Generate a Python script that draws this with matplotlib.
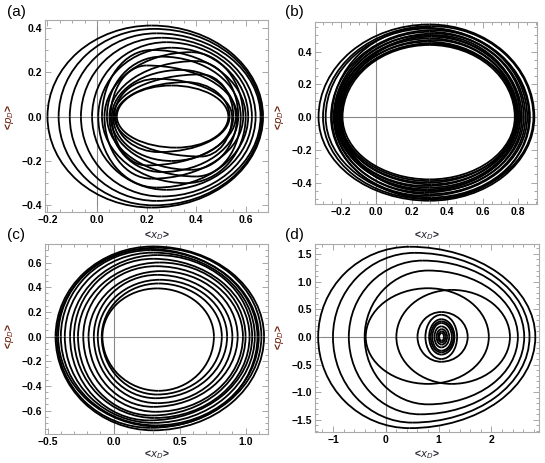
import matplotlib
matplotlib.use("Agg")
import matplotlib.pyplot as plt
from matplotlib.patches import Arc
from matplotlib.ticker import AutoMinorLocator

# each loop of a trajectory: left / right crossing of p=0, top / bottom height,
# x position of the top and bottom turning points
a_left = [-0.20, -0.155, -0.11, -0.065, -0.02, 0.005, 0.02, 0.03, 0.04, 0.05, 0.055, 0.06, 0.065, 0.07, 0.075, 0.08]
a_right = [0.67, 0.665, 0.66, 0.64, 0.625, 0.61, 0.60, 0.59, 0.58, 0.57, 0.565, 0.56, 0.55, 0.545, 0.535, 0.53]
a_top = [0.41, 0.395, 0.375, 0.355, 0.335, 0.31, 0.30, 0.29, 0.27, 0.25, 0.23, 0.21, 0.19, 0.17, 0.155, 0.14]
a_bot = [0.41, 0.40, 0.38, 0.36, 0.33, 0.32, 0.30, 0.28, 0.27, 0.25, 0.24, 0.22, 0.20, 0.18, 0.16, 0.14]
a_ptop = [0.22, 0.23, 0.24, 0.26, 0.28, 0.30, 0.22, 0.38, 0.26, 0.40, 0.20, 0.34, 0.42, 0.24, 0.36, 0.30]
a_pbot = [0.22, 0.23, 0.24, 0.26, 0.28, 0.24, 0.36, 0.22, 0.40, 0.26, 0.38, 0.20, 0.30, 0.42, 0.25, 0.32]

b_left = [-0.325, -0.30, -0.285, -0.255, -0.24, -0.235, -0.23, -0.225, -0.22, -0.215, -0.21, -0.205, -0.20, -0.195, -0.19, -0.25]
b_right = [0.89, 0.885, 0.865, 0.85, 0.84, 0.83, 0.82, 0.81, 0.80, 0.795, 0.79, 0.785, 0.80, 0.81, 0.78, 0.86]
b_top = [0.565, 0.555, 0.54, 0.53, 0.52, 0.51, 0.50, 0.49, 0.48, 0.47, 0.46, 0.45, 0.445, 0.50, 0.44, 0.545]
b_bot = [0.51, 0.50, 0.49, 0.48, 0.47, 0.46, 0.45, 0.44, 0.43, 0.42, 0.41, 0.40, 0.39, 0.45, 0.38, 0.50]
b_ptop = [0.30, 0.31, 0.29, 0.32, 0.30, 0.33, 0.28, 0.31, 0.30, 0.32, 0.29, 0.31, 0.30, 0.33, 0.30, 0.28]
b_pbot = [0.30, 0.29, 0.31, 0.28, 0.30, 0.27, 0.32, 0.29, 0.30, 0.28, 0.31, 0.29, 0.30, 0.27, 0.30, 0.32]

c_left = [-0.44, -0.43, -0.40, -0.37, -0.33, -0.30, -0.27, -0.23, -0.19, -0.15, -0.12, -0.09, -0.085, -0.42]
c_right = [1.14, 1.12, 1.10, 1.07, 1.05, 1.03, 1.00, 0.98, 0.94, 0.90, 0.86, 0.82, 0.76, 1.09]
c_top = [0.73, 0.72, 0.70, 0.68, 0.66, 0.63, 0.60, 0.57, 0.53, 0.50, 0.46, 0.43, 0.39, 0.71]
c_bot = [0.76, 0.74, 0.72, 0.70, 0.68, 0.66, 0.64, 0.61, 0.57, 0.54, 0.50, 0.47, 0.44, 0.73]
c_ptop = [0.30, 0.32, 0.28, 0.30, 0.33, 0.30, 0.35, 0.32, 0.36, 0.33, 0.35, 0.34, 0.33, 0.26]
c_pbot = [0.30, 0.28, 0.32, 0.30, 0.27, 0.31, 0.29, 0.32, 0.30, 0.33, 0.32, 0.33, 0.34, 0.34]

d_left = [-1.28, -1.00, -0.70, -0.40, -0.38, 0.20, 0.60, 0.75, 0.82, 0.88, 0.92, 0.96, 0.99, 1.01, 0.85]
d_right = [2.83, 2.72, 2.62, 2.50, 1.95, 2.35, 1.55, 1.35, 1.30, 1.25, 1.20, 1.16, 1.13, 1.10, 1.28]
d_top = [1.63, 1.52, 1.38, 1.20, 0.88, 0.85, 0.45, 0.40, 0.32, 0.25, 0.19, 0.14, 0.10, 0.07, 0.28]
d_bot = [1.65, 1.55, 1.40, 1.22, 0.85, 0.85, 0.45, 0.40, 0.32, 0.25, 0.19, 0.14, 0.10, 0.07, 0.28]
d_ptop = [0.45, 0.55, 0.70, 0.80, 0.80, 1.25, 1.05, 1.05, 1.05, 1.05, 1.05, 1.06, 1.06, 1.06, 1.05]
d_pbot = [0.45, 0.50, 0.65, 0.80, 0.80, 1.25, 1.05, 1.05, 1.05, 1.05, 1.05, 1.06, 1.06, 1.06, 1.05]

a_xticks = [-0.2, 0.0, 0.2, 0.4, 0.6]
a_yticks = [-0.4, -0.2, 0.0, 0.2, 0.4]
b_xticks = [-0.2, 0.0, 0.2, 0.4, 0.6, 0.8]
b_yticks = [-0.4, -0.2, 0.0, 0.2, 0.4]
c_xticks = [-0.5, 0.0, 0.5, 1.0]
c_yticks = [-0.6, -0.4, -0.2, 0.0, 0.2, 0.4, 0.6]
d_xticks = [-1, 0, 1, 2]
d_yticks = [-1.5, -1.0, -0.5, 0.0, 0.5, 1.0, 1.5]

W, H = 545, 463
fig = plt.figure(figsize=(W / 100, H / 100), dpi=100)

pcol = '#6e2412'
xcol = '#2a2a35'


def lab(v, fmt):
    return (fmt % v).replace('-', '\u2212')


def panel(box, left, right, top, bot, ptop, pbot, xlim, ylim, xt, yt, xfmt, yfmt, nminor):
    l, t, r, b = box
    ax = fig.add_axes([l / W, 1 - b / H, (r - l) / W, (b - t) / H])
    ax.axhline(0, color='#888888', lw=0.8, zorder=1)
    ax.axvline(0, color='#888888', lw=0.8, zorder=1)
    for i in range(len(left)):
        L, R, T, B, pt, pb = left[i], right[i], top[i], bot[i], ptop[i], pbot[i]
        kw = dict(color='black', lw=1.3, zorder=2)
        ax.add_patch(Arc((pt, 0), 2 * (pt - L), 2 * T, theta1=90, theta2=180, **kw))
        ax.add_patch(Arc((pt, 0), 2 * (R - pt), 2 * T, theta1=0, theta2=90, **kw))
        ax.add_patch(Arc((pb, 0), 2 * (pb - L), 2 * B, theta1=180, theta2=270, **kw))
        ax.add_patch(Arc((pb, 0), 2 * (R - pb), 2 * B, theta1=270, theta2=360, **kw))
    ax.set_xlim(*xlim)
    ax.set_ylim(*ylim)
    ax.set_xticks(xt)
    ax.set_xticklabels([lab(v, xfmt) for v in xt])
    ax.set_yticks(yt)
    ax.set_yticklabels([lab(v, yfmt) for v in yt])
    ax.xaxis.set_minor_locator(AutoMinorLocator(nminor[0]))
    ax.yaxis.set_minor_locator(AutoMinorLocator(nminor[1]))
    ax.tick_params(which='both', direction='in', top=True, right=True, color='#999999', width=0.6)
    ax.tick_params(which='major', length=4, labelsize=7.5, pad=2)
    ax.tick_params(which='minor', length=2)
    for s in ax.spines.values():
        s.set_color('#aaaaaa')
        s.set_linewidth(0.8)
    for t_ in ax.get_xticklabels() + ax.get_yticklabels():
        t_.set_fontweight('bold')
        t_.set_fontfamily('Liberation Sans')
    return ax


panel((45, 20, 268, 212), a_left, a_right, a_top, a_bot, a_ptop, a_pbot,
      (-0.21, 0.69), (-0.43, 0.435), a_xticks, a_yticks, '%.1f', '%.1f', (4, 4))
panel((315, 22, 537, 204), b_left, b_right, b_top, b_bot, b_ptop, b_pbot,
      (-0.345, 0.905), (-0.53, 0.58), b_xticks, b_yticks, '%.1f', '%.1f', (4, 4))
panel((45, 244, 268, 434), c_left, c_right, c_top, c_bot, c_ptop, c_pbot,
      (-0.52, 1.17), (-0.79, 0.75), c_xticks, c_yticks, '%.1f', '%.1f', (5, 4))
panel((315, 244, 539, 432), d_left, d_right, d_top, d_bot, d_ptop, d_pbot,
      (-1.34, 2.9), (-1.72, 1.68), d_xticks, d_yticks, '%d', '%.1f', (5, 5))

for s, x, y in [('(a)', 7, 12), ('(b)', 285, 12), ('(c)', 7, 235), ('(d)', 285, 235)]:
    fig.text(x / W, 1 - y / H, s, fontsize=11, family='Liberation Sans', va='center', ha='left')

for x, y in [(10, 117), (279, 117), (10, 336), (279, 337)]:
    fig.text(x / W, 1 - y / H, r'<$p_D$>', fontsize=7.5, color=pcol, rotation=90,
             va='center', ha='center', family='Liberation Sans', fontweight='bold')
for x, y in [(157, 236), (427, 236), (157, 455), (427, 455)]:
    fig.text(x / W, 1 - y / H, r'<$x_D$>', fontsize=7.5, color=xcol,
             va='center', ha='center', family='Liberation Sans', fontweight='bold')

fig.savefig('out.png', dpi=100)
